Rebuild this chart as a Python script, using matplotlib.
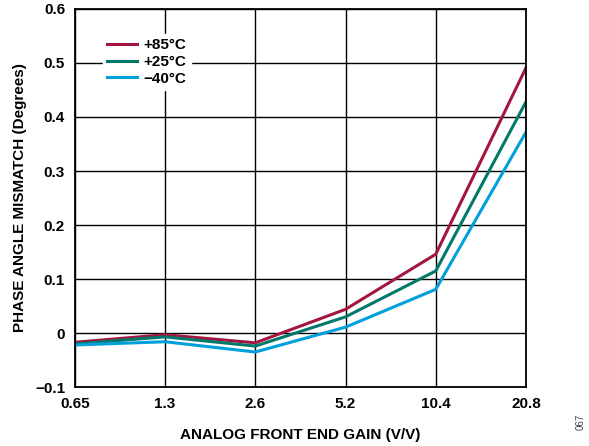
import matplotlib.pyplot as plt
import numpy as np

plt.rcParams['font.family'] = ['Liberation Sans', 'DejaVu Sans']

gain_labels = ["0.65", "1.3", "2.6", "5.2", "10.4", "20.8"]
t85 = [-0.017, -0.003, -0.018, 0.044, 0.146, 0.491]
t25 = [-0.020, -0.007, -0.024, 0.030, 0.115, 0.428]
tm40 = [-0.022, -0.016, -0.035, 0.011, 0.081, 0.372]

x = np.arange(len(gain_labels))

fig = plt.figure(figsize=(5.89, 4.46), dpi=100)
ax = fig.add_axes([0.127, 0.132, 0.766, 0.848])

ax.plot(x, t85, color="#A3173F", lw=2.2, label="+85°C")
ax.plot(x, t25, color="#00796B", lw=2.2, label="+25°C")
ax.plot(x, tm40, color="#00A0DC", lw=2.2, label="\u221240°C")

ax.set_xlim(0, 5)
ax.set_ylim(-0.1, 0.6)
ax.set_xticks(x)
ax.set_xticklabels(gain_labels)
ax.set_yticks(np.arange(-0.1, 0.61, 0.1))
ax.set_yticklabels(["\u22120.1", "0", "0.1", "0.2", "0.3", "0.4", "0.5", "0.6"])
ax.grid(True, color="black", lw=1.0)
ax.tick_params(length=0, labelsize=11, pad=7)
for lab in ax.get_xticklabels() + ax.get_yticklabels():
    lab.set_fontweight("bold")
for s in ax.spines.values():
    s.set_linewidth(1.3)

ax.set_xlabel("ANALOG FRONT END GAIN (V/V)", fontsize=11, fontweight="bold", labelpad=12)
ax.set_ylabel("PHASE ANGLE MISMATCH (Degrees)", fontsize=11, fontweight="bold", labelpad=6)

leg = ax.legend(loc="upper left", bbox_to_anchor=(0.045, 0.955), frameon=True,
                fancybox=False, edgecolor="white", framealpha=1,
                handlelength=1.95, handletextpad=0.4, labelspacing=0.18,
                borderpad=0.3, prop={"weight": "bold", "size": 11})

fig.text(0.985, 0.035, "067", rotation=90, fontsize=7, color="#444444", ha="center", va="bottom")

fig.savefig("out.png", dpi=100)
